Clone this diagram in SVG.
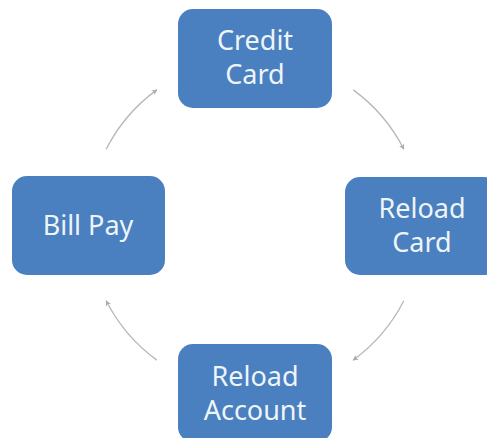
<svg xmlns="http://www.w3.org/2000/svg" width="487" height="438" viewBox="0 0 487 438">
  <style>
    .box { fill: #4a7fc0; }
    .label { font-family: "Noto Sans", "Liberation Sans", sans-serif; font-size: 27px; fill: #eef5f8; text-anchor: middle; }
    .arc { fill: none; stroke: #b4b8bb; stroke-width: 1.3; marker-end: url(#head); }
  </style>
  <defs>
    <marker id="head" viewBox="0 0 10 10" refX="8" refY="5" markerWidth="7" markerHeight="7" markerUnits="userSpaceOnUse" orient="auto">
      <path d="M1,1 L9,5 L1,9 L3,5 Z" fill="#a9adb0"/>
    </marker>
  </defs>
  <rect width="487" height="438" fill="#ffffff"/>

  <!-- cycle connectors: arcs on a circle centred at (255,225), r=167 -->
  <g id="connectors">
    <path class="arc" d="M353.2,89.9 A167,167 0 0 1 403.8,149.2"/>
    <path class="arc" d="M403.8,300.8 A167,167 0 0 1 353.2,360.1"/>
    <path class="arc" d="M156.8,360.1 A167,167 0 0 1 106.2,300.8"/>
    <path class="arc" d="M106.2,149.2 A167,167 0 0 1 156.8,89.9"/>
  </g>

  <g id="credit-card">
    <rect class="box" x="178" y="9" width="154" height="99" rx="15"/>
    <text class="label" x="255" y="50">Credit</text>
    <text class="label" x="255" y="84">Card</text>
  </g>

  <g id="reload-card">
    <rect class="box" x="345" y="177" width="154" height="98" rx="15"/>
    <text class="label" x="422" y="218">Reload</text>
    <text class="label" x="422" y="252">Card</text>
  </g>

  <g id="reload-account">
    <rect class="box" x="178" y="344" width="154" height="98" rx="15"/>
    <text class="label" x="255" y="386">Reload</text>
    <text class="label" x="255" y="420">Account</text>
  </g>

  <g id="bill-pay">
    <rect class="box" x="12" y="176" width="153" height="99" rx="15"/>
    <text class="label" x="88" y="235">Bill Pay</text>
  </g>
</svg>
